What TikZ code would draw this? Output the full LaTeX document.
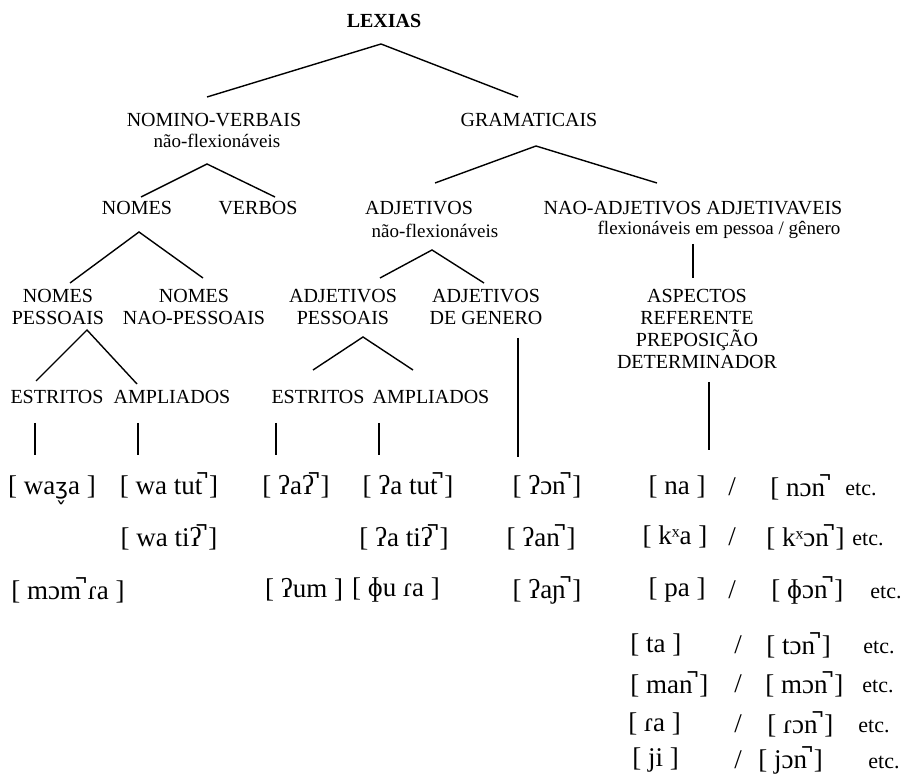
\documentclass[tikz,border=0pt]{standalone}
\usepackage{fontspec}
\setmainfont{Liberation Serif}
\newfontfamily\ipax{DejaVu Sans}
\usepackage{tikz}

\tikzset{
  lab/.style={inner sep=0pt, align=center, font=\fontsize{10}{11}\selectfont},
  lexbold/.style={inner sep=0pt, font=\fontsize{10}{11}\selectfont\bfseries},
  sub/.style={inner sep=0pt, font=\fontsize{9.5}{11}\selectfont},
  fon/.style={inner sep=0pt, font=\fontsize{13.5}{14}\selectfont},
  etcx/.style={inner sep=0pt, font=\fontsize{11}{12}\selectfont},
  branch/.style={line width=0.7pt},
}

\begin{document}
\begin{tikzpicture}[x=0.5pt,y=-0.5pt]
  \useasboundingbox (0,0) rectangle (904,774);

  \node[lexbold] (lexias) at (384,21) {LEXIAS};
  \node[lab] (nomverb) at (214,120) {NOMINO-VERBAIS};
  \node[sub] (nomverbsub) at (217,141) {não-flexionáveis};
  \node[lab] (gram) at (529,120) {GRAMATICAIS};
  \node[lab] (nomes) at (137,208) {NOMES};
  \node[lab] (verbos) at (258,208) {VERBOS};
  \node[lab] (adjet) at (419,208) {ADJETIVOS};
  \node[sub] (adjetsub) at (435,231) {não-flexionáveis};
  \node[lab] (naoadj) at (693,208) {NAO-ADJETIVOS ADJETIVAVEIS};
  \node[sub] (naoadjsub) at (719,230) {flexionáveis em pessoa / gênero};
  \node[lab] (nompes) at (58,307) {NOMES\\PESSOAIS};
  \node[lab] (nomnaopes) at (194,307) {NOMES\\NAO-PESSOAIS};
  \node[lab] (adjpes) at (343,307) {ADJETIVOS\\PESSOAIS};
  \node[lab] (adjgen) at (486,307) {ADJETIVOS\\DE GENERO};
  \node[lab] (aspectos) at (697,329) {ASPECTOS\\REFERENTE\\PREPOSIÇÃO\\DETERMINADOR};
  \node[lab] (estr1) at (57,397) {ESTRITOS};
  \node[lab] (ampl1) at (172,397) {AMPLIADOS};
  \node[lab] (estr2) at (318,397) {ESTRITOS};
  \node[lab] (ampl2) at (431,397) {AMPLIADOS};

  \coordinate (lexias-fork) at (381,44);
  \coordinate (nomverb-top) at (207,97);
  \coordinate (gram-top) at (518,97);
  \coordinate (nomverb-fork) at (207,164);
  \coordinate (nomes-top) at (141,197);
  \coordinate (verbos-top) at (275,197);
  \coordinate (gram-fork) at (536,146);
  \coordinate (adjet-top) at (435,183);
  \coordinate (naoadj-top) at (657,183);
  \coordinate (nomes-fork) at (139,232);
  \coordinate (nompes-top) at (70,283);
  \coordinate (nomnaopes-top) at (203,278);
  \coordinate (adjet-fork) at (432,250);
  \coordinate (adjpes-top) at (380,278);
  \coordinate (adjgen-top) at (484,283);
  \coordinate (nompes-fork) at (87,330);
  \coordinate (estr1-top) at (36,381);
  \coordinate (ampl1-top) at (137,384);
  \coordinate (adjpes-fork) at (363,337);
  \coordinate (estr2-top) at (313,370);
  \coordinate (ampl2-top) at (413,370);

  \foreach \f/\l/\r in {lexias-fork/nomverb-top/gram-top, nomverb-fork/nomes-top/verbos-top,
      gram-fork/adjet-top/naoadj-top, nomes-fork/nompes-top/nomnaopes-top,
      adjet-fork/adjpes-top/adjgen-top, nompes-fork/estr1-top/ampl1-top,
      adjpes-fork/estr2-top/ampl2-top}
    \draw[branch] (\l) -- (\f) -- (\r);

  \coordinate (naoadj-stem) at (693,244);
  \coordinate (aspectos-top) at (693,278);
  \coordinate (adjgen-stem) at (518,338);
  \coordinate (adjgen-foot) at (518,457);
  \coordinate (aspectos-stem) at (709,382);
  \coordinate (aspectos-foot) at (709,450);
  \coordinate (estr1-stem) at (35,423);
  \coordinate (estr1-foot) at (35,455);
  \coordinate (ampl1-stem) at (138,423);
  \coordinate (ampl1-foot) at (138,455);
  \coordinate (estr2-stem) at (276,423);
  \coordinate (estr2-foot) at (276,455);
  \coordinate (ampl2-stem) at (379,423);
  \coordinate (ampl2-foot) at (379,455);

  \foreach \t/\b in {naoadj-stem/aspectos-top, adjgen-stem/adjgen-foot,
      aspectos-stem/aspectos-foot, estr1-stem/estr1-foot, ampl1-stem/ampl1-foot,
      estr2-stem/estr2-foot, ampl2-stem/ampl2-foot}
    \draw[branch] (\t) -- (\b);

  \node[fon] (waza) at (52,490) {[ wa{\ipax\fontsize{11}{13}\selectfont ʒ̬}a ]};
  \node[fon] (watut) at (169,485) {[ wa tut̚ ]};
  \node[fon] (wati) at (169,537) {[ wa tiʔ̚ ]};
  \node[fon] (momra) at (68,590) {[ mɔm̚ ɾa ]};
  \node[fon] (aa) at (296,485) {[ ʔaʔ̚ ]};
  \node[fon] (um) at (304,590) {[ ʔum ]};
  \node[fon] (atut) at (408,485) {[ ʔa tut̚ ]};
  \node[fon] (ati) at (404,537) {[ ʔa tiʔ̚ ]};
  \node[fon] (fura) at (396,590) {[ ɸu ɾa ]};
  \node[fon] (on) at (547,485) {[ ʔɔn̚ ]};
  \node[fon] (an) at (541,537) {[ ʔan̚ ]};
  \node[fon] (anj) at (547,590) {[ ʔaɲ̚ ]};

  \node[fon] (na) at (677,487) {[ na ]};
  \node[fon] (sl1) at (732,487) {/};
  \node[fon,anchor=west] (non) at (770,487) {[ nɔn̚};
  \node[etcx,anchor=west] (etc1) at (845,489) {etc.};
  \node[fon] (kxa) at (675,537) {[ kˣa ]};
  \node[fon] (sl2) at (732,537) {/};
  \node[fon,anchor=west] (kxon) at (766,537) {[ kˣɔn̚ ]};
  \node[etcx,anchor=west] (etc2) at (852,539) {etc.};
  \node[fon] (pa) at (677,590) {[ pa ]};
  \node[fon] (sl3) at (732,590) {/};
  \node[fon,anchor=west] (fon) at (771,590) {[ ɸɔn̚ ]};
  \node[etcx,anchor=west] (etc3) at (870,592) {etc.};

  \node[fon,anchor=west] (ta) at (630,645) {[ ta ]};
  \node[fon] (sl4) at (738,645) {/};
  \node[fon,anchor=west] (ton) at (766,645) {[ tɔn̚ ]};
  \node[etcx,anchor=west] (etc4) at (863,647) {etc.};
  \node[fon,anchor=west] (man) at (630,684) {[ man̚ ]};
  \node[fon] (sl5) at (738,684) {/};
  \node[fon,anchor=west] (mon) at (765,684) {[ mɔn̚ ]};
  \node[etcx,anchor=west] (etc5) at (862,686) {etc.};
  \node[fon,anchor=west] (ra) at (628,724) {[ ɾa ]};
  \node[fon] (sl6) at (738,724) {/};
  \node[fon,anchor=west] (ron) at (767,724) {[ ɾɔn̚ ]};
  \node[etcx,anchor=west] (etc6) at (858,726) {etc.};
  \node[fon,anchor=west] (ji) at (632,760) {[ ji ]};
  \node[fon] (sl7) at (738,760) {/};
  \node[fon,anchor=west] (jon) at (758,760) {[ jɔn̚ ]};
  \node[etcx,anchor=west] (etc7) at (868,762) {etc.};
\end{tikzpicture}
\end{document}
